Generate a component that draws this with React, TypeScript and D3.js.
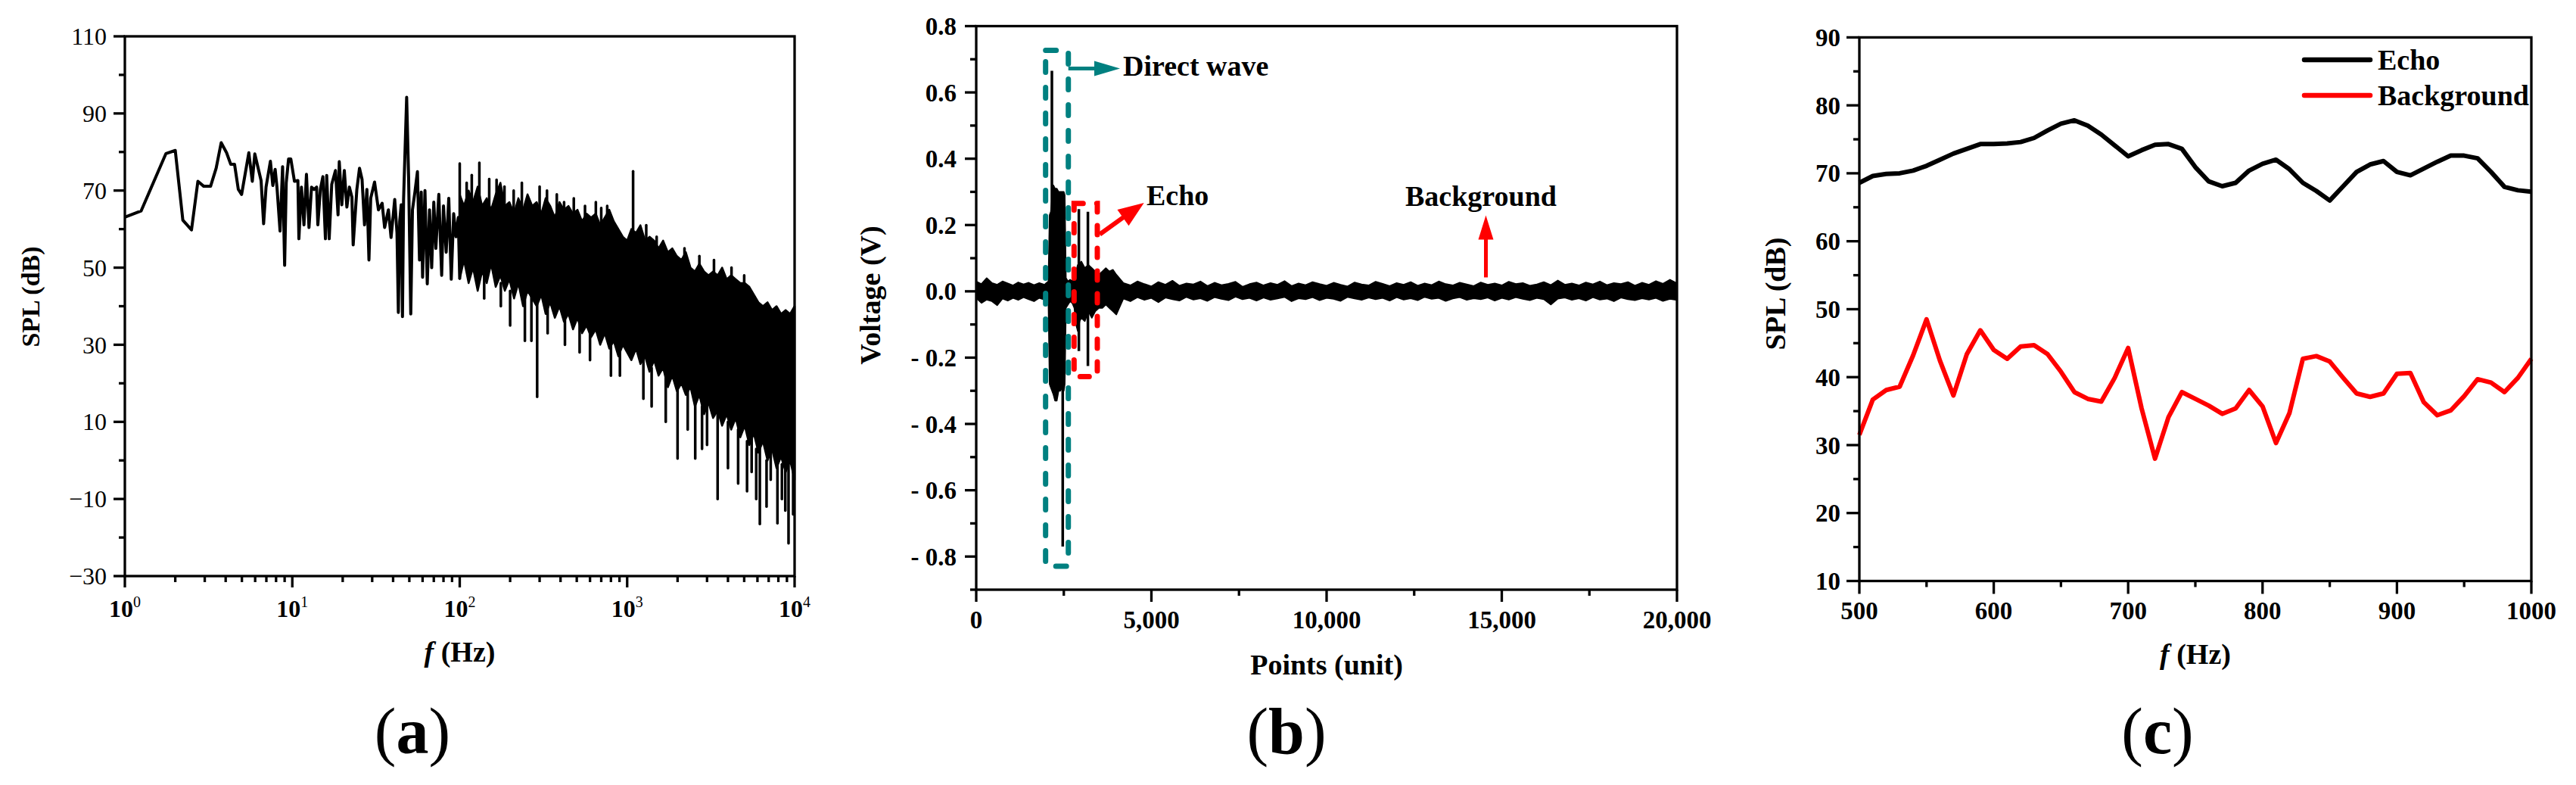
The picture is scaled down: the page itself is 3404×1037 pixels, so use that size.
import React from "react";
import * as d3 from "d3";

// ---------- (a) SPL spectrum, log frequency ----------
const lowFreq = [
  1.0, 1.25, 1.76, 2.0, 2.22, 2.5, 2.73, 2.96, 3.25, 3.51, 3.76, 4.05, 4.29, 4.52, 4.76, 4.98,
  5.5, 5.77, 5.97, 6.51, 6.74, 6.97, 7.4, 7.65, 7.9, 8.1, 8.45, 8.75, 9.0, 9.2, 9.5, 9.8,
  10.3, 10.8, 10.95, 11.34, 11.74, 12.15, 12.58, 13.03, 13.49, 13.97, 14.21, 14.71, 15.23,
  15.77, 16.05, 16.61, 17.2, 18.11, 18.76, 19.08, 19.75, 20.45, 21.18, 21.93, 22.7, 23.1,
  24.3, 25.2, 26.1, 27.0, 27.9, 28.7, 29.4, 31.0, 32.7, 34.4, 35.6, 37.5, 38.9, 40.9, 42.2,
  43.0, 43.8, 44.7, 45.5, 46.2, 48.2, 49.5, 51.0, 52.2, 54.0, 55.9, 57.5, 58.9, 60, 62, 64,
  66, 68, 70, 72, 75, 78, 80, 83, 86, 89, 92, 95, 98, 100,
];
const lowSpl = [
  63.1, 64.7, 79.6, 80.4, 62.3, 59.8, 72.4, 71.1, 71.1, 75.8, 82.4, 79.8, 76.8, 76.8, 70.3, 69.0,
  79.8, 72.4, 79.5, 72.6, 61.4, 70.9, 77.6, 71.3, 75.5, 70.9, 59.5, 76.2, 50.6, 72.0, 78.2, 78.2,
  72.4, 72.6, 57.5, 70.9, 61.1, 74.2, 60.4, 70.9, 70.3, 70.9, 61.1, 70.3, 73.6,
  57.5, 73.9, 57.5, 71.6, 75.2, 63.7, 77.5, 66.3, 75.2, 65.7, 70.9, 68.3, 55.9,
  70.3, 75.8, 72.9, 61.1, 70.3, 52.0, 68.0, 72.2, 65.0, 66.7, 60.4, 65.0, 57.8, 67.7, 59.0,
  38.4, 62.0, 66.3, 37.3, 67.7, 94.2, 73.6, 38.0, 65.0, 69.6, 74.9, 52.0, 69.6, 47.5, 70, 45.8,
  65, 50, 67, 55, 69, 48, 66, 54, 68, 47, 64, 58, 63, 47,
];
const bandFreq = [
  100, 106, 113, 120, 128, 136, 145, 154, 164, 175, 186, 198, 211, 224, 239, 254, 271, 288, 307, 326,
  347, 370, 394, 419, 446, 475, 505, 538, 572, 609, 649, 690, 735, 782, 832, 886, 943, 1000, 1060, 1130,
  1200, 1280, 1360, 1450, 1540, 1640, 1750, 1860, 1980, 2110, 2240, 2390, 2540, 2700, 2880, 3060, 3260,
  3470, 3690, 3930, 4180, 4450, 4740, 5040, 5370, 5710, 6080, 6470, 6890, 7330, 7800, 8300, 8840, 9400, 10000,
];
const bandTop = [
  69, 66, 70, 67, 71, 66, 68, 65, 69, 72, 66, 67, 64, 68, 65, 69, 66, 67, 64, 68,
  66, 63, 67, 65, 66, 64, 65, 62, 64, 63, 64, 61, 63, 65, 62, 60, 58, 57, 60, 59,
  61, 57, 58, 57, 55, 57, 54, 55, 53, 52, 54, 50, 49, 51, 49, 48, 49,
  48, 50, 47, 48, 47, 46, 46, 45, 43, 41, 40, 41, 39, 40, 38, 39, 38, 40,
];
const bandBottom = [
  47, 52, 46, 50, 44, 49, 46, 51, 45, 48, 44, 47, 42, 46, 40, 44, 42, 40, 43, 38,
  41, 37, 40, 36, 38, 34, 37, 33, 35, 32, 34, 30, 33, 29, 31, 27, 30, 28, 26, 29,
  25, 27, 23, 26, 22, 24, 19, 22, 18, 20, 17, 19, 14, 17, 12, 15, 11,
  13, 9, 12, 8, 11, 6, 9, 4, 7, 2, 5, 0, 3, -2, 1, -3, 0, -5,
];
// narrow single-bin peaks and dips sticking out of the dense band
const spikeFreq = [
  100, 110, 118, 131, 150, 166, 185, 210, 235, 300, 332, 380, 420, 480, 560, 650, 700, 760, 1085, 1300, 1500, 2200, 2700, 3300, 4200, 5000,
  140, 176, 200, 245, 268, 290, 335, 425, 520, 600, 800, 905, 1250, 1400, 1700, 2000, 2300, 2550, 2800, 3000, 3470, 4000, 4600,
  5200, 5540, 5900, 6200, 6800, 7200, 7900, 8400, 8800, 9200, 9800,
];
const spikeFrom = [
  62, 64, 63, 62, 62, 64, 62, 62, 62, 62, 62, 60, 62, 60, 58, 58, 60, 58, 55, 52, 50, 48, 45, 44, 44, 40,
  50, 46, 44, 45, 44, 50, 40, 38, 36, 34, 30, 30, 30, 24, 26, 22, 18, 20, 14, 14, 14, 10, 8,
  5, 8, 3, 6, 0, 4, 2, -1, 2, 0, 2,
];
const spikeTo = [
  77, 72, 74, 77.2, 73, 72.8, 71, 70, 72, 71, 70, 69, 67, 68, 66, 67, 65.5, 66, 75, 61, 58, 55, 53, 52, 50, 48,
  42, 40, 35, 31, 31, 16.5, 33, 30, 28, 26, 22, 22, 16, 14, 10, 0.5, 8, 0.5, 3, 4, -10, -2, -6,
  -8, -3, -10, -16.5, -12, -5, -16.3, -10, -13, -21.5, -14,
];
const aYMajor = [110, 90, 70, 50, 30, 10, -10, -30];
const aYMinor = [100, 80, 60, 40, 20, 0, -20];
const aXMajor = [1, 10, 100, 1000, 10000];
const aXExp = ["0", "1", "2", "3", "4"];

// ---------- (b) recorded voltage ----------
const traceX = [
  0, 150, 300, 450, 600, 750, 900, 1050, 1200, 1350, 1500, 1650, 1800, 1950,
  2000, 2060, 2095, 2130, 2200, 2250, 2300, 2350, 2400, 2450, 2500, 2527, 2560, 2620, 2680, 2740,
  2800, 2850, 2900, 2950, 3000, 3100, 3200, 3300, 3400, 3500, 3600, 3700, 3800, 3900, 4000,
  4200, 4400, 4600, 4800, 5000, 5200, 5400, 5600, 5800, 6000,
  6200, 6400, 6600, 6800, 7000, 7200, 7400, 7600, 7800, 8000,
  8200, 8400, 8600, 8800, 9000, 9200, 9400, 9600, 9800, 10000,
  10200, 10400, 10600, 10800, 11000, 11200, 11400, 11600, 11800, 12000,
  12200, 12400, 12600, 12800, 13000, 13200, 13400, 13600, 13800, 14000,
  14200, 14400, 14600, 14800, 15000, 15200, 15400, 15600, 15800, 16000,
  16200, 16400, 16600, 16800, 17000, 17200, 17400, 17600, 17800, 18000,
  18200, 18400, 18600, 18800, 19000, 19200, 19400, 19600, 19800, 20000,
];
const traceTop = [
  0.03, 0.022, 0.04, 0.025, 0.02, 0.03, 0.024, 0.018, 0.027, 0.021, 0.026, 0.019, 0.025, 0.02,
  0.025, 0.03, 0.23, 0.24, 0.32, 0.31, 0.31, 0.3, 0.3, 0.3, 0.3, 0.29, 0.04, 0.03, 0.035, 0.03,
  0.05, 0.06, 0.08, 0.085, 0.09, 0.07, 0.08, 0.07, 0.06, 0.05, 0.06, 0.07, 0.06, 0.065, 0.05,
  0.025, 0.018, 0.03, 0.022, 0.015, 0.028, 0.02, 0.032, 0.017, 0.024,
  0.021, 0.03, 0.016, 0.026, 0.019, 0.023, 0.029, 0.014, 0.022, 0.027,
  0.018, 0.025, 0.02, 0.031, 0.016, 0.024, 0.019, 0.028, 0.022, 0.017,
  0.026, 0.02, 0.015, 0.027, 0.021, 0.018, 0.029, 0.023, 0.016, 0.025,
  0.02, 0.028, 0.017, 0.024, 0.019, 0.03, 0.022, 0.018, 0.026, 0.021,
  0.016, 0.027, 0.02, 0.024, 0.018, 0.029, 0.022, 0.025, 0.017, 0.021,
  0.028, 0.019, 0.033, 0.02, 0.024, 0.018, 0.027, 0.021, 0.03, 0.019,
  0.025, 0.022, 0.028, 0.017, 0.026, 0.02, 0.031, 0.023, 0.035, 0.024,
];
const traceBottom = [
  -0.02, -0.035, -0.025, -0.03, -0.042, -0.022, -0.028, -0.02, -0.026, -0.018, -0.024, -0.03, -0.02, -0.025,
  -0.03, -0.025, -0.28, -0.29, -0.31, -0.33, -0.33, -0.3, -0.3, -0.29, -0.3, -0.28, -0.05, -0.04, -0.03, -0.035,
  -0.05, -0.1, -0.12, -0.09, -0.08, -0.09, -0.06, -0.08, -0.06, -0.05, -0.05, -0.04, -0.05, -0.06, -0.07,
  -0.022, -0.03, -0.018, -0.026, -0.02, -0.033, -0.019, -0.024, -0.028, -0.017,
  -0.025, -0.021, -0.029, -0.018, -0.023, -0.027, -0.016, -0.024, -0.02, -0.028,
  -0.019, -0.026, -0.022, -0.017, -0.03, -0.021, -0.024, -0.018, -0.027, -0.02,
  -0.023, -0.029, -0.017, -0.022, -0.026, -0.019, -0.024, -0.02, -0.028, -0.018,
  -0.025, -0.021, -0.027, -0.017, -0.023, -0.02, -0.029, -0.022, -0.018, -0.026,
  -0.021, -0.024, -0.019, -0.028, -0.02, -0.025, -0.018, -0.023, -0.027, -0.02,
  -0.024, -0.04, -0.022, -0.019, -0.026, -0.021, -0.028, -0.018, -0.025, -0.022,
  -0.03, -0.019, -0.024, -0.027, -0.021, -0.025, -0.02, -0.029, -0.023, -0.026,
];
const pulseX = [2160, 2469, 2930, 3188];
const pulseTop = [0.665, 0.0, 0.248, 0.24];
const pulseBottom = [0.0, -0.77, -0.18, -0.225];
const bYMajor = [0.8, 0.6, 0.4, 0.2, 0.0, -0.2, -0.4, -0.6, -0.8];
const bYLabels = ["0.8", "0.6", "0.4", "0.2", "0.0", "- 0.2", "- 0.4", "- 0.6", "- 0.8"];
const bYMinor = [0.7, 0.5, 0.3, 0.1, -0.1, -0.3, -0.5, -0.7, -0.9];
const bXMajor = [0, 5000, 10000, 15000, 20000];
const bXLabels = ["0", "5,000", "10,000", "15,000", "20,000"];
const bXMinor = [2500, 7500, 12500, 17500];

// ---------- (c) echo vs background ----------
const cFreq = [
  500, 510, 520, 530, 540, 550, 560, 570, 580, 590, 600, 610, 620, 630, 640, 650, 660, 670, 680, 690,
  700, 710, 720, 730, 740, 750, 760, 770, 780, 790, 800, 810, 820, 830, 840, 850, 860, 870, 880, 890,
  900, 910, 920, 930, 940, 950, 960, 970, 980, 990, 1000,
];
const echoSpl = [
  68.6, 69.6, 69.9, 70.0, 70.4, 71.1, 72.0, 72.9, 73.6, 74.3, 74.3, 74.4, 74.6, 75.2, 76.3, 77.3, 77.8, 77.0, 75.7, 74.1,
  72.5, 73.4, 74.2, 74.3, 73.6, 70.9, 68.8, 68.1, 68.6, 70.4, 71.4, 72.0, 70.6, 68.6, 67.4, 66.0, 68.1, 70.2, 71.3, 71.8,
  70.2, 69.7, 70.7, 71.7, 72.6, 72.6, 72.2, 70.2, 68.0, 67.5, 67.3,
];
const backgroundSpl = [
  31.5, 36.7, 38.1, 38.6, 43.2, 48.5, 42.4, 37.3, 43.4, 46.9, 44.0, 42.7, 44.5, 44.7, 43.4, 40.8, 37.8, 36.8, 36.4, 39.9,
  44.3, 35.4, 28.0, 34.1, 37.8, 36.8, 35.8, 34.6, 35.4, 38.1, 35.7, 30.3, 34.7, 42.7, 43.1, 42.3, 39.9, 37.6, 37.1, 37.6,
  40.5, 40.6, 36.3, 34.4, 35.1, 37.2, 39.7, 39.2, 37.8, 39.9, 42.7,
];
const cSeries = ["Echo", "Background"];
const cColors = ["#000000", "#ff0000"];
const cYMajor = [90, 80, 70, 60, 50, 40, 30, 20, 10];
const cYMinor = [85, 75, 65, 55, 45, 35, 25, 15];
const cXMajor = [500, 600, 700, 800, 900, 1000];
const cXMinor = [550, 650, 750, 850, 950];

const FONT = "'Liberation Serif', 'Times New Roman', Times, serif";
const AXIS_W = 3.3;
const TEAL = "#008080";
const RED = "#ff0000";

function arrowHead(x1: number, y1: number, x2: number, y2: number, len: number, half: number) {
  const a = Math.atan2(y2 - y1, x2 - x1);
  const bx = x2 - len * Math.cos(a);
  const by = y2 - len * Math.sin(a);
  const px = -Math.sin(a) * half;
  const py = Math.cos(a) * half;
  return `${x2},${y2} ${bx + px},${by + py} ${bx - px},${by - py}`;
}

function Frame({ x0, x1, y0, y1 }: { x0: number; x1: number; y0: number; y1: number }) {
  return <rect x={x0} y={y1} width={x1 - x0} height={y0 - y1} fill="none" stroke="#000" strokeWidth={AXIS_W} />;
}

function PanelA() {
  const x = d3.scaleLog().domain([1, 1e4]).range([165, 1050]);
  const y = d3.scaleLinear().domain([-30, 110]).range([761, 48]);
  const [x0, x1] = x.range();
  const [y0, y1] = y.range();
  const low = d3.line<number>().x((_, i) => x(lowFreq[i])).y((d) => y(d))(lowSpl) || "";
  const band =
    d3.area<number>().x((_, i) => x(bandFreq[i])).y0((_, i) => y(bandBottom[i])).y1((d) => y(d))(bandTop) || "";
  const minorX = x.ticks().filter((t) => !aXMajor.includes(t));
  return (
    <g>
      <path d={low} fill="none" stroke="#000" strokeWidth={4} strokeLinejoin="round" />
      <path d={band} fill="#000" stroke="#000" strokeWidth={2.5} strokeLinejoin="round" />
      {spikeFreq.map((f, i) => (
        <line key={i} x1={x(f)} x2={x(f)} y1={y(spikeFrom[i])} y2={y(spikeTo[i])} stroke="#000" strokeWidth={3.5} strokeLinecap="round" />
      ))}
      <Frame x0={x0} x1={x1} y0={y0} y1={y1} />
      {aYMajor.map((v) => (
        <g key={v}>
          <line x1={x0 - 15} x2={x0} y1={y(v)} y2={y(v)} stroke="#000" strokeWidth={AXIS_W} />
          <text x={x0 - 24} y={y(v)} dy="0.35em" textAnchor="end" fontSize={32} fontFamily={FONT}>
            {v < 0 ? "\u2212" + Math.abs(v) : String(v)}
          </text>
        </g>
      ))}
      {aYMinor.map((v) => (
        <line key={v} x1={x0 - 8} x2={x0} y1={y(v)} y2={y(v)} stroke="#000" strokeWidth={AXIS_W} />
      ))}
      {aXMajor.map((v, i) => (
        <g key={v}>
          <line x1={x(v)} x2={x(v)} y1={y0} y2={y0 + 15} stroke="#000" strokeWidth={AXIS_W} />
          <text x={x(v)} y={815} textAnchor="middle" fontSize={32} fontWeight="bold" fontFamily={FONT}>
            10<tspan dy={-13} fontSize={20} fontWeight="normal">{aXExp[i]}</tspan>
          </text>
        </g>
      ))}
      {minorX.map((v) => (
        <line key={v} x1={x(v)} x2={x(v)} y1={y0} y2={y0 + 8} stroke="#000" strokeWidth={AXIS_W} />
      ))}
      <text transform="translate(40,392) rotate(-90)" textAnchor="middle" dominantBaseline="central" fontSize={34} fontWeight="bold" fontFamily={FONT}>
        SPL (dB)
      </text>
      <text x={(x0 + x1) / 2} y={874} textAnchor="middle" fontSize={38} fontWeight="bold" fontFamily={FONT}>
        <tspan fontStyle="italic">f</tspan>
        {" (Hz)"}
      </text>
    </g>
  );
}

function PanelB() {
  const x = d3.scaleLinear().domain([0, 20000]).range([1290, 2216]);
  const y = d3.scaleLinear().domain([-0.9, 0.8]).range([779, 34.5]);
  const [x0, x1] = x.range();
  const [y0, y1] = y.range();
  const trace =
    d3.area<number>().x((_, i) => x(traceX[i])).y0((_, i) => y(traceBottom[i])).y1((d) => y(d))(traceTop) || "";

  // annotation anchors in data units
  const direct = { x0: 1980, x1: 2629, v0: -0.829, v1: 0.727 };
  const echo = { x0: 2793, x1: 3456, v0: -0.257, v1: 0.265 };
  const tealArrow = [x(2629), y(0.672), x(4104), y(0.672)];
  const redArrow = [x(3527), y(0.172), x(4788), y(0.267)];
  const upArrow = [x(14546), y(0.042), x(14546), y(0.229)];

  return (
    <g>
      <path d={trace} fill="#000" stroke="#000" strokeWidth={1.8} strokeLinejoin="round" />
      {pulseX.map((p, i) => (
        <line key={p} x1={x(p)} x2={x(p)} y1={y(pulseTop[i])} y2={y(pulseBottom[i])} stroke="#000" strokeWidth={3.5} />
      ))}
      <rect
        x={x(direct.x0)} y={y(direct.v1)} width={x(direct.x1) - x(direct.x0)} height={y(direct.v0) - y(direct.v1)}
        fill="none" stroke={TEAL} strokeWidth={7} strokeDasharray="14 20" strokeLinecap="round"
      />
      <rect
        x={x(echo.x0)} y={y(echo.v1)} width={x(echo.x1) - x(echo.x0)} height={y(echo.v0) - y(echo.v1)}
        fill="none" stroke={RED} strokeWidth={7} strokeDasharray="12 18" strokeLinecap="round"
      />
      <line x1={tealArrow[0]} y1={tealArrow[1]} x2={tealArrow[2] - 30} y2={tealArrow[3]} stroke={TEAL} strokeWidth={5} />
      <polygon points={arrowHead(tealArrow[0], tealArrow[1], tealArrow[2], tealArrow[3], 34, 10)} fill={TEAL} />
      <line x1={redArrow[0]} y1={redArrow[1]} x2={redArrow[2] - 20} y2={redArrow[3] + 14} stroke={RED} strokeWidth={6} />
      <polygon points={arrowHead(redArrow[0], redArrow[1], redArrow[2], redArrow[3], 34, 13)} fill={RED} />
      <line x1={upArrow[0]} y1={upArrow[1]} x2={upArrow[2]} y2={upArrow[3] + 28} stroke={RED} strokeWidth={5} />
      <polygon points={arrowHead(upArrow[0], upArrow[1], upArrow[2], upArrow[3], 32, 10)} fill={RED} />
      <text x={x(4190)} y={y(0.651)} fontSize={38} fontWeight="bold" fontFamily={FONT}>Direct wave</text>
      <text x={x(4860)} y={y(0.259)} fontSize={38} fontWeight="bold" fontFamily={FONT}>Echo</text>
      <text x={x(12246)} y={y(0.257)} fontSize={38} fontWeight="bold" fontFamily={FONT}>Background</text>
      <Frame x0={x0} x1={x1} y0={y0} y1={y1} />
      {bYMajor.map((v, i) => (
        <g key={v}>
          <line x1={x0 - 15} x2={x0} y1={y(v)} y2={y(v)} stroke="#000" strokeWidth={AXIS_W} />
          <text x={x0 - 26} y={y(v)} dy="0.35em" textAnchor="end" fontSize={33} fontWeight="bold" fontFamily={FONT}>
            {bYLabels[i]}
          </text>
        </g>
      ))}
      {bYMinor.map((v) => (
        <line key={v} x1={x0 - 8} x2={x0} y1={y(v)} y2={y(v)} stroke="#000" strokeWidth={AXIS_W} />
      ))}
      {bXMajor.map((v, i) => (
        <g key={v}>
          <line x1={x(v)} x2={x(v)} y1={y0} y2={y0 + 16} stroke="#000" strokeWidth={AXIS_W} />
          <text x={x(v)} y={830} textAnchor="middle" fontSize={33} fontWeight="bold" fontFamily={FONT}>
            {bXLabels[i]}
          </text>
        </g>
      ))}
      {bXMinor.map((v) => (
        <line key={v} x1={x(v)} x2={x(v)} y1={y0} y2={y0 + 8} stroke="#000" strokeWidth={AXIS_W} />
      ))}
      <text transform="translate(1150,390) rotate(-90)" textAnchor="middle" dominantBaseline="central" fontSize={38} fontWeight="bold" fontFamily={FONT}>
        Voltage (V)
      </text>
      <text x={(x0 + x1) / 2} y={891} textAnchor="middle" fontSize={38} fontWeight="bold" fontFamily={FONT}>
        Points (unit)
      </text>
    </g>
  );
}

function PanelC() {
  const x = d3.scaleLinear().domain([500, 1000]).range([2457, 3345]);
  const y = d3.scaleLinear().domain([10, 90]).range([767.5, 49.4]);
  const [x0, x1] = x.range();
  const [y0, y1] = y.range();
  const line = d3.line<number>().x((_, i) => x(cFreq[i])).y((d) => y(d));
  const series = [echoSpl, backgroundSpl];
  return (
    <g>
      {series.map((s, k) => (
        <path key={k} d={line(s) || ""} fill="none" stroke={cColors[k]} strokeWidth={6} strokeLinejoin="round" />
      ))}
      <Frame x0={x0} x1={x1} y0={y0} y1={y1} />
      {cYMajor.map((v) => (
        <g key={v}>
          <line x1={x0 - 17} x2={x0} y1={y(v)} y2={y(v)} stroke="#000" strokeWidth={AXIS_W} />
          <text x={x0 - 25} y={y(v)} dy="0.35em" textAnchor="end" fontSize={33} fontWeight="bold" fontFamily={FONT}>
            {v}
          </text>
        </g>
      ))}
      {cYMinor.map((v) => (
        <line key={v} x1={x0 - 8} x2={x0} y1={y(v)} y2={y(v)} stroke="#000" strokeWidth={AXIS_W} />
      ))}
      {cXMajor.map((v) => (
        <g key={v}>
          <line x1={x(v)} x2={x(v)} y1={y0} y2={y0 + 17} stroke="#000" strokeWidth={AXIS_W} />
          <text x={x(v)} y={818} textAnchor="middle" fontSize={33} fontWeight="bold" fontFamily={FONT}>
            {v}
          </text>
        </g>
      ))}
      {cXMinor.map((v) => (
        <line key={v} x1={x(v)} x2={x(v)} y1={y0} y2={y0 + 8} stroke="#000" strokeWidth={AXIS_W} />
      ))}
      {cSeries.map((name, k) => (
        <g key={name} transform={`translate(3045,${79 + k * 47})`}>
          <line x1={0} x2={87} y1={0} y2={0} stroke={cColors[k]} strokeWidth={6.5} strokeLinecap="round" />
          <text x={97} y={0} dy="0.35em" fontSize={38} fontWeight="bold" fontFamily={FONT}>
            {name}
          </text>
        </g>
      ))}
      <text transform="translate(2346,388) rotate(-90)" textAnchor="middle" dominantBaseline="central" fontSize={38} fontWeight="bold" fontFamily={FONT}>
        SPL (dB)
      </text>
      <text x={(x0 + x1) / 2} y={877} textAnchor="middle" fontSize={38} fontWeight="bold" fontFamily={FONT}>
        <tspan fontStyle="italic">f</tspan>
        {" (Hz)"}
      </text>
    </g>
  );
}

const captions = ["a", "b", "c"];
const captionX = [545, 1700, 2851];

export default function App() {
  return (
    <div style={{ position: "absolute", left: 0, top: 0, background: "#fff" }}>
      <svg width={3404} height={1037} style={{ display: "block" }}>
        <rect width={3404} height={1037} fill="#fff" />
        <PanelA />
        <PanelB />
        <PanelC />
        {captions.map((c, i) => (
          <text key={c} x={captionX[i]} y={995} textAnchor="middle" fontSize={86} fontFamily={FONT}>
            (<tspan fontWeight="bold">{c}</tspan>)
          </text>
        ))}
      </svg>
    </div>
  );
}
